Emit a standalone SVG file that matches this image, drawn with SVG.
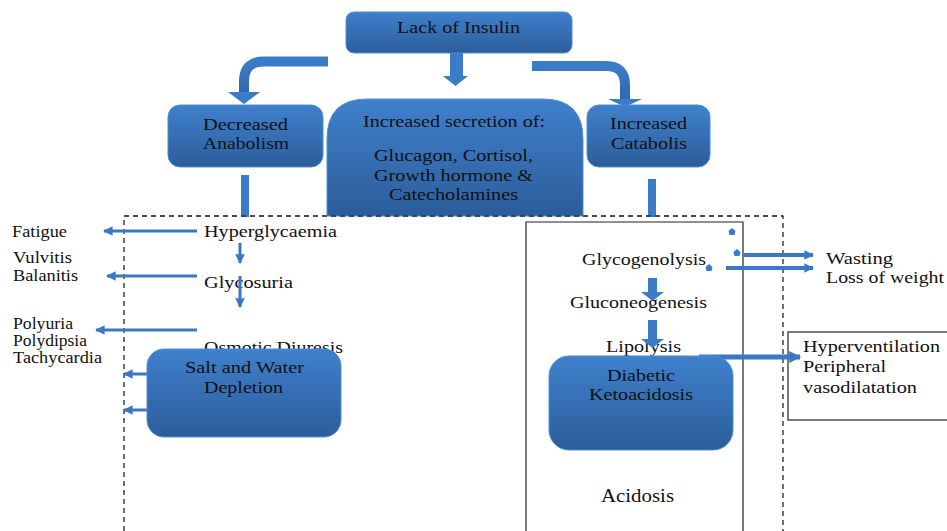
<svg xmlns="http://www.w3.org/2000/svg" width="947" height="531" viewBox="0 0 947 531" font-family="'Liberation Serif', 'DejaVu Serif', serif">
<defs>
<linearGradient id="bg" x1="0" y1="0" x2="0" y2="1">
<stop offset="0" stop-color="#3f80cc"/>
<stop offset="1" stop-color="#2c5d9a"/>
</linearGradient>
<linearGradient id="ag" x1="0" y1="0" x2="0" y2="1">
<stop offset="0" stop-color="#3b7cc8"/>
<stop offset="1" stop-color="#3068ad"/>
</linearGradient>
<marker id="mh" viewBox="0 0 10 10" refX="9" refY="5" markerWidth="3.2" markerHeight="3.2" orient="auto" markerUnits="strokeWidth">
<path d="M0,0 L10,5 L0,10 Z" fill="#3b78c4"/>
</marker>
<marker id="mw" viewBox="0 0 10 10" refX="9" refY="5" markerWidth="2.6" markerHeight="2.4" orient="auto" markerUnits="strokeWidth">
<path d="M0,0 L10,5 L0,10 Z" fill="#3b78c4"/>
</marker>
</defs>
<style>
text{font-family:'Liberation Serif','DejaVu Serif',serif}
.t{font-size:17px;fill:#111}
.s{font-size:16px}
.box{fill:url(#bg);stroke:#4d8fd6;stroke-width:1}
.thin{fill:none;stroke:#3b78c4;stroke-width:3;marker-end:url(#mh)}
.med{fill:none;stroke:#3b78c4;stroke-width:4;marker-end:url(#mw)}
.fat{fill:none;stroke:url(#ag);stroke-width:10}
.bar{fill:#3b7cc8}
.frame{fill:none;stroke:#111;stroke-width:1.2;stroke-dasharray:5 4}
</style>

<rect width="947" height="531" fill="#fff"/>

<g id="frames">
<path class="frame" d="M124,531 V216 H783 V531"/>
<path d="M526,531 V222 H743 V531" fill="none" stroke="#222" stroke-width="1.2"/>
<rect x="788" y="332" width="170" height="88" fill="#fff" stroke="#222" stroke-width="1.2"/>
</g>

<g id="labels">
<g id="hyperglycaemia"><text class="t" x="204" y="237" textLength="133" lengthAdjust="spacingAndGlyphs">Hyperglycaemia</text></g>
<g id="fatigue"><text class="t" x="12" y="237" textLength="55" lengthAdjust="spacingAndGlyphs">Fatigue</text></g>
<g id="vulvitis"><text class="t s" x="13" y="263" textLength="59" lengthAdjust="spacingAndGlyphs">Vulvitis</text><text class="t s" x="13" y="281" textLength="65" lengthAdjust="spacingAndGlyphs">Balanitis</text></g>
<g id="glycosuria"><text class="t" x="204" y="288" textLength="89" lengthAdjust="spacingAndGlyphs">Glycosuria</text></g>
<g id="polyuria"><text class="t s" x="13" y="329" textLength="60" lengthAdjust="spacingAndGlyphs">Polyuria</text><text class="t s" x="13" y="346" textLength="74" lengthAdjust="spacingAndGlyphs">Polydipsia</text><text class="t s" x="13" y="363" textLength="89" lengthAdjust="spacingAndGlyphs">Tachycardia</text></g>
<g id="osmotic"><text class="t" x="204" y="353" textLength="139" lengthAdjust="spacingAndGlyphs">Osmotic Diuresis</text></g>
<g id="glycogenolysis"><text class="t" x="582" y="265" textLength="124" lengthAdjust="spacingAndGlyphs">Glycogenolysis</text></g>
<g id="gluconeogenesis"><text class="t" x="570" y="308" textLength="137" lengthAdjust="spacingAndGlyphs">Gluconeogenesis</text></g>
<g id="lipolysis"><text class="t" x="606" y="352" textLength="75" lengthAdjust="spacingAndGlyphs">Lipolysis</text></g>
<g id="wasting"><text class="t" x="826" y="264" textLength="67" lengthAdjust="spacingAndGlyphs">Wasting</text><text class="t" x="826" y="283" textLength="118" lengthAdjust="spacingAndGlyphs">Loss of weight</text></g>
<g id="hyperventilation"><text class="t" x="803" y="352" textLength="137" lengthAdjust="spacingAndGlyphs">Hyperventilation</text><text class="t" x="803" y="372" textLength="83" lengthAdjust="spacingAndGlyphs">Peripheral</text><text class="t" x="803" y="393" textLength="114" lengthAdjust="spacingAndGlyphs">vasodilatation</text></g>
<g id="acidosis"><text class="t" x="601" y="502" style="font-size:18px" textLength="73" lengthAdjust="spacingAndGlyphs">Acidosis</text></g>
</g>

<g id="connectors">
<path class="fat" d="M328,61.5 H264 Q244,61.5 244,81 V93"/>
<polygon class="bar" points="228,92 260,92 244,104"/>
<rect class="bar" x="450" y="53" width="13" height="24"/>
<polygon class="bar" points="443,76 468,76 455.5,86"/>
<path class="fat" d="M532,66 H606 Q625,66 625,85 V100"/>
<polygon class="bar" points="608,99 642,99 625,107"/>
<rect class="bar" x="241" y="175" width="8" height="42"/>
<rect class="bar" x="648" y="179" width="8" height="38"/>
<path class="thin" d="M197,231 H104"/>
<path class="thin" d="M197,276 H107"/>
<path class="thin" d="M197,330 H96"/>
<path class="thin" d="M147,374 H124"/>
<path class="thin" d="M147,410 H124"/>
<path class="thin" d="M240,243 V263"/>
<path class="thin" d="M240,276 V307"/>
<rect class="bar" x="648" y="278" width="9" height="15"/>
<polygon class="bar" points="641,292 664,292 652.5,301"/>
<rect class="bar" x="648" y="320" width="9" height="20"/>
<polygon class="bar" points="641,339 664,339 652.5,348"/>
<path class="med" d="M743,255 H813"/>
<path class="med" d="M726,268 H813"/>
<path class="med" d="M699,357 H800" style="stroke-width:5"/>
<polygon class="bar" points="732,228 735.5,231 734.5,235 729.5,235 728.5,231"/>
<polygon class="bar" points="737,249 740.5,252 739.5,256 734.5,256 733.5,252"/>
<polygon class="bar" points="709,264 712.5,267 711.5,271 706.5,271 705.5,267"/>
</g>

<g id="lack-of-insulin">
<rect class="box" x="346" y="12" width="226" height="41" rx="8"/>
<text class="t" x="397" y="33" textLength="123" lengthAdjust="spacingAndGlyphs">Lack of Insulin</text>
</g>
<g id="decreased-anabolism">
<rect class="box" x="168" y="105" width="155" height="62" rx="12"/>
<text class="t" x="203" y="130" textLength="85" lengthAdjust="spacingAndGlyphs">Decreased</text>
<text class="t" x="203" y="149" textLength="86" lengthAdjust="spacingAndGlyphs">Anabolism</text>
</g>
<g id="increased-secretion">
<path class="box" d="M327,216 V139 Q327,99 367,99 H543 Q583,99 583,139 V216 Z"/>
<text class="t" x="363" y="127" textLength="182" lengthAdjust="spacingAndGlyphs">Increased secretion of:</text>
<text class="t" x="374" y="161" textLength="159" lengthAdjust="spacingAndGlyphs">Glucagon, Cortisol,</text>
<text class="t" x="374" y="181" textLength="159" lengthAdjust="spacingAndGlyphs">Growth hormone &amp;</text>
<text class="t" x="389" y="200" textLength="129" lengthAdjust="spacingAndGlyphs">Catecholamines</text>
</g>
<g id="increased-catabolis">
<rect class="box" x="587" y="105" width="123" height="62" rx="12"/>
<text class="t" x="610" y="129" textLength="77" lengthAdjust="spacingAndGlyphs">Increased</text>
<text class="t" x="611" y="149" textLength="76" lengthAdjust="spacingAndGlyphs">Catabolis</text>
</g>
<g id="salt-water">
<rect class="box" x="147" y="349" width="194" height="88" rx="17"/>
<text class="t" x="185" y="373" textLength="119" lengthAdjust="spacingAndGlyphs">Salt and Water</text>
<text class="t" x="204" y="393" textLength="79" lengthAdjust="spacingAndGlyphs">Depletion</text>
</g>
<g id="diabetic-ketoacidosis">
<rect class="box" x="549" y="356" width="184" height="94" rx="20"/>
<text class="t" x="607" y="381" textLength="68" lengthAdjust="spacingAndGlyphs">Diabetic</text>
<text class="t" x="589" y="400" textLength="104" lengthAdjust="spacingAndGlyphs">Ketoacidosis</text>
</g>
<path class="frame" d="M124,216 H783"/>
</svg>
